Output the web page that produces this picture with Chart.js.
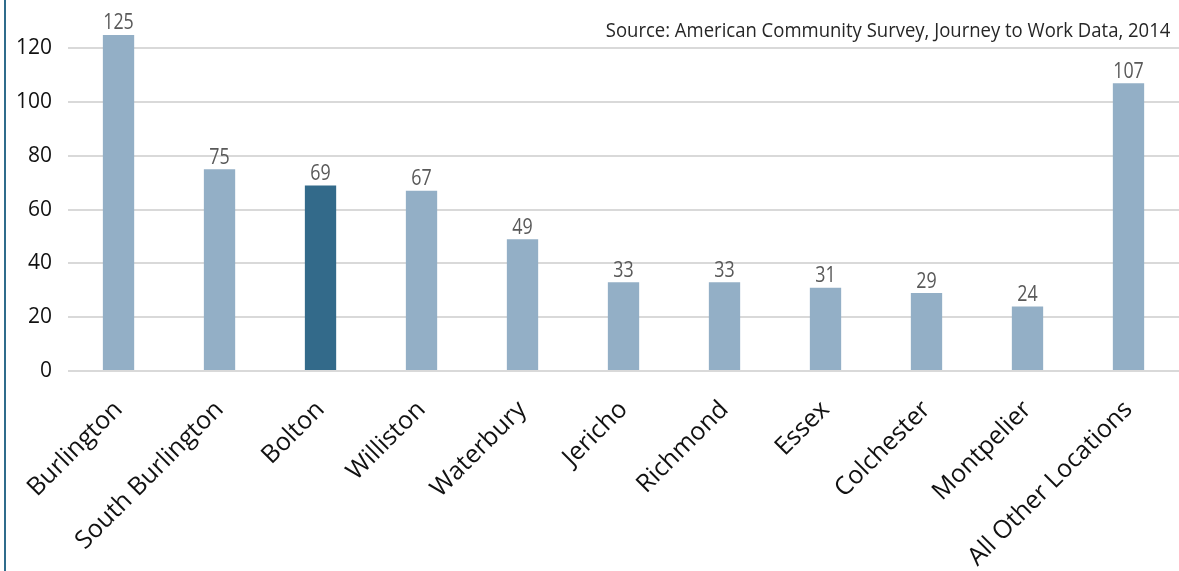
<!DOCTYPE html>
<html>
<head>
<meta charset="utf-8">
<script src="https://cdn.jsdelivr.net/npm/chart.js@4/dist/chart.umd.min.js"></script>
<style>
  html, body { margin: 0; padding: 0; background: #fff; overflow: hidden; width: 1179px; height: 571px; }
  #frame { position: absolute; left: 4px; top: 0; width: 2px; height: 571px; background: #2f6c8c; }
  #chart { position: absolute; left: 0; top: -34px; }
  #source { position: absolute; right: 9px; top: 16px; font-family: "Open Sans", sans-serif;
    font-size: 20px; color: #262626; white-space: nowrap; transform: scaleX(0.925); transform-origin: right center; }
</style>
</head>
<body>
<canvas id="chart" width="1179" height="680"></canvas>
<div id="frame"></div>
<div id="source">Source: American Community Survey, Journey to Work Data, 2014</div>
<script>
const places = ['Burlington', 'South Burlington', 'Bolton', 'Williston', 'Waterbury', 'Jericho',
  'Richmond', 'Essex', 'Colchester', 'Montpelier', 'All Other Locations'];
const workers = [125, 75, 69, 67, 49, 33, 33, 31, 29, 24, 107];
const highlight = 'Bolton';
const yTicks = [0, 20, 40, 60, 80, 100, 120];

const lightBar = '#93afc6';
const darkBar = '#336a8a';

// value labels above bars, squeezed a bit to look condensed
const valueLabels = {
  id: 'valueLabels',
  afterDatasetsDraw(chart) {
    const ctx = chart.ctx;
    const meta = chart.getDatasetMeta(0);
    ctx.save();
    ctx.font = '21px "Open Sans", sans-serif';
    ctx.fillStyle = '#595959';
    ctx.textAlign = 'center';
    ctx.textBaseline = 'bottom';
    meta.data.forEach((bar, i) => {
      ctx.save();
      ctx.translate(bar.x, bar.y - 1);
      ctx.scale(0.85, 1);
      ctx.fillText(String(workers[i]), 0, 0);
      ctx.restore();
    });
    ctx.restore();
  }
};

new Chart(document.getElementById('chart'), {
  type: 'bar',
  data: {
    labels: places,
    datasets: [{
      data: workers,
      backgroundColor: places.map((p) => (p === highlight ? darkBar : lightBar)),
      barPercentage: 0.31,
      categoryPercentage: 1,
    }],
  },
  options: {
    responsive: false,
    animation: false,
    devicePixelRatio: 1,
    layout: { padding: { left: 0, top: 0, right: 0, bottom: 0 } },
    plugins: { legend: { display: false }, tooltip: { enabled: false } },
    scales: {
      x: {
        grid: { display: false },
        border: { display: false },
        ticks: {
          maxRotation: 45,
          minRotation: 45,
          padding: 16,
          color: '#111',
          font: { family: '"Open Sans", sans-serif', size: 25 },
        },
        afterFit(scale) { scale.height = 275; },
      },
      y: {
        min: 0,
        max: 140,
        afterBuildTicks(scale) { scale.ticks = yTicks.map((v) => ({ value: v })); },
        grid: { color: '#d9d9d9', lineWidth: 2, drawTicks: false },
        border: { display: false },
        ticks: {
          padding: 16,
          color: '#111',
          font: { family: '"Open Sans", sans-serif', size: 21 },
        },
      },
    },
  },
  plugins: [valueLabels],
});
</script>
</body>
</html>
